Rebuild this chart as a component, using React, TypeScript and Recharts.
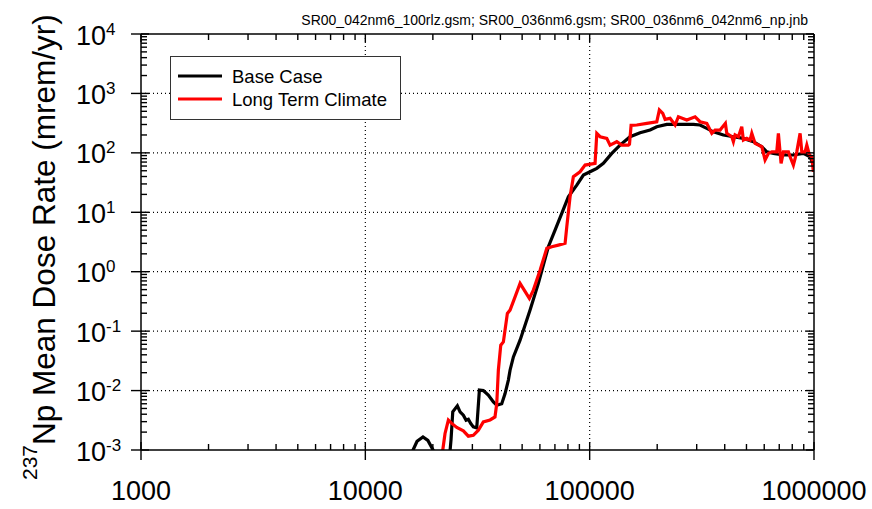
import { LineChart, Line, XAxis, YAxis, CartesianGrid, Legend } from "recharts"

const FONT = "'Liberation Sans', Arial, Helvetica, sans-serif"

// time (yr) and dose (mrem/yr)
const baseTime = [
    15000, 16320, 17000, 18070, 19000, 20050, 21000, 23500, 24100, 24530, 25720, 26440, 27350, 28120, 28790,
    29510, 30300, 31380, 32240, 33570, 35330, 37220, 38540, 40560, 41970, 43410, 44170, 45710, 48950, 54240,
    59060, 65440, 70100, 75100, 80360, 87600, 93760, 100400, 107600, 115100, 125500, 136600, 151400, 167800,
    185900, 199100, 220700, 252900, 290000, 310500, 332700, 356000, 394500, 437200, 484500, 537000, 585300,
    616000, 659200, 730400, 809200, 896700, 960700, 1000000,
]
const baseDose = [
    0.0005, 0.001, 0.0014, 0.00166, 0.00145, 0.001, 0.0005, 0.0005, 0.0015, 0.00438, 0.00553, 0.00438, 0.00385,
    0.00318, 0.0033, 0.00279, 0.00245, 0.00235, 0.0102, 0.01, 0.0084, 0.00645, 0.00568, 0.006, 0.0089, 0.015,
    0.022, 0.0369, 0.0705, 0.226, 0.636, 2.63, 5.0, 9.6, 18.2, 28.7, 42.3, 48.1, 54.8, 66.5, 98, 135, 187, 218,
    242, 275, 302, 302, 302, 294, 258, 226, 200, 187, 175, 154, 127, 104, 98, 92, 92, 98, 86, 58,
]

const climateTime = [
    21500, 22140, 22660, 23450, 24280, 25560, 27350, 28790, 30300, 31900, 33570, 35970, 37840, 38540, 39170,
    40150, 41240, 42970, 44170, 46500, 48950, 53850, 56100, 60100, 64400, 67760, 72550, 77700, 79060, 81770,
    84600, 90600, 95400, 105700, 107600, 111300, 119200, 123300, 132100, 139000, 148800, 150500, 153000, 162200,
    179800, 199100, 204500, 211800, 216900, 228300, 240300, 248600, 271000, 295100, 310500, 332700, 350300,
    362200, 381400, 402700, 408500, 430100, 437200, 444800, 460300, 476400, 484500, 501800, 518900, 528100,
    546300, 585300, 605300, 626600, 648600, 682300, 693800, 713300, 730400, 769100, 782500, 809200, 838000,
    867000, 882300, 912600, 928800, 954000, 977300, 993900, 1000000,
]
const climateDose = [
    0.0004, 0.001, 0.0019, 0.00318, 0.0028, 0.00239, 0.0021, 0.00171, 0.00177, 0.00215, 0.00297, 0.0032, 0.0036,
    0.00607, 0.022, 0.058, 0.066, 0.199, 0.226, 0.378, 0.636, 0.355, 0.49, 1.06, 2.47, 2.63, 2.8, 3.0, 5.7, 18.2,
    39.6, 48.1, 62.3, 66.5, 213, 187, 175, 135, 154, 135, 135, 140, 290, 294, 314, 334, 526, 462, 366, 381, 294,
    405, 356, 405, 334, 314, 213, 242, 242, 314, 213, 187, 154, 200, 187, 275, 164, 175, 164, 213, 144, 127,
    75.7, 98, 104, 104, 213, 66.5, 104, 104, 86, 62.3, 104, 213, 104, 104, 135, 92, 86, 48, 58,
]

const xDecades = [1000, 10000, 100000, 1000000]
const xTickLabels = ["1000", "10000", "100000", "1000000"]
const yExponents = [-3, -2, -1, 0, 1, 2, 3, 4]
const yTickLabels = ["-3", "-2", "-1", "0", "1", "2", "3", "4"]

const subtitle = "SR00_042nm6_100rlz.gsm; SR00_036nm6.gsm; SR00_036nm6_042nm6_np.jnb"

const baseData = baseTime.map((t, i) => ({ t, dose: baseDose[i] }))
const climateData = climateTime.map((t, i) => ({ t, dose: climateDose[i] }))

const yDecades = yExponents.map((e) => Math.pow(10, e))
const withMinors = (decades: number[]) => {
    const out: number[] = []
    decades.forEach((d, i) => {
        out.push(d)
        if (i < decades.length - 1) for (let k = 2; k <= 9; k++) out.push(d * k)
    })
    return out
}
const xTicks = withMinors(xDecades)
const yTicks = withMinors(yDecades)

const isMajor = (v: number) => Math.abs(Math.log10(v) - Math.round(Math.log10(v))) < 1e-6

function BottomTick({ x, y, payload }: any) {
    const v = payload.value
    const major = isMajor(v)
    const idx = xDecades.findIndex((d) => Math.abs(d - v) < 1e-6 * d)
    return (
        <g>
            <line x1={x} x2={x} y1={y - (major ? 8 : 6)} y2={y + (major ? 10 : 0)} stroke="#000" strokeWidth={1.4} />
            {major && (
                <text x={x} y={y + 50} textAnchor="middle" fontSize={27} fontFamily={FONT} fill="#000">
                    {xTickLabels[idx]}
                </text>
            )}
        </g>
    )
}

function TopTick({ x, y, payload }: any) {
    const major = isMajor(payload.value)
    return <line x1={x} x2={x} y1={y} y2={y + (major ? 8 : 6)} stroke="#000" strokeWidth={1.4} />
}

function LeftTick({ x, y, payload }: any) {
    const v = payload.value
    const major = isMajor(v)
    const idx = yDecades.findIndex((d) => Math.abs(d - v) < 1e-6 * d)
    return (
        <g>
            <line x1={x - (major ? 10 : 0)} x2={x + (major ? 8 : 6)} y1={y} y2={y} stroke="#000" strokeWidth={1.4} />
            {major && (
                <text x={x - 65} y={y + 10.5} fontSize={27} fontFamily={FONT} fill="#000">
                    10
                    <tspan fontSize={17} dy={-10}>
                        {yTickLabels[idx]}
                    </tspan>
                </text>
            )}
        </g>
    )
}

function RightTick({ x, y, payload }: any) {
    const major = isMajor(payload.value)
    return <line x1={x - (major ? 8 : 6)} x2={x} y1={y} y2={y} stroke="#000" strokeWidth={1.4} />
}

function LegendBox({ payload }: any) {
    return (
        <svg width={231} height={64} style={{ display: "block" }}>
            <rect x={0.5} y={0.5} width={230} height={63} fill="#fff" stroke="#333" strokeWidth={1} />
            {(payload || []).map((entry: any, i: number) => (
                <g key={entry.value}>
                    <line x1={8} x2={52} y1={20 + i * 23} y2={20 + i * 23} stroke={entry.color} strokeWidth={3} />
                    <text x={62} y={27 + i * 23} fontSize={18.5} fontFamily={FONT} fill="#000">
                        {entry.value}
                    </text>
                </g>
            ))}
        </svg>
    )
}

export default function App() {
    const axisLine = { stroke: "#000", strokeWidth: 1.5 }
    return (
        <div style={{ position: "absolute", left: 0, top: 0, background: "#fff" }}>
            <LineChart width={872} height={509} margin={{ top: 33, right: 57, bottom: 0, left: 0 }}>
                <CartesianGrid
                    horizontal
                    vertical
                    horizontalValues={yDecades.slice(1, -1)}
                    verticalValues={xDecades.slice(1, -1)}
                    stroke="#000"
                    strokeWidth={1.2}
                    strokeDasharray="1 3"
                />
                <XAxis
                    dataKey="t"
                    type="number"
                    scale="log"
                    domain={[1000, 1000000]}
                    allowDataOverflow
                    ticks={xTicks}
                    interval={0}
                    height={59}
                    tickSize={0}
                    tickMargin={0}
                    tickLine={false}
                    axisLine={axisLine}
                    tick={<BottomTick />}
                />
                <XAxis
                    xAxisId="top"
                    orientation="top"
                    dataKey="t"
                    type="number"
                    scale="log"
                    domain={[1000, 1000000]}
                    allowDataOverflow
                    ticks={xTicks}
                    interval={0}
                    height={1}
                    tickSize={0}
                    tickMargin={0}
                    tickLine={false}
                    axisLine={axisLine}
                    tick={<TopTick />}
                />
                <YAxis
                    type="number"
                    scale="log"
                    domain={[0.001, 10000]}
                    allowDataOverflow
                    ticks={yTicks}
                    interval={0}
                    width={141}
                    tickSize={0}
                    tickMargin={0}
                    tickLine={false}
                    axisLine={axisLine}
                    tick={<LeftTick />}
                />
                <YAxis
                    yAxisId="right"
                    orientation="right"
                    type="number"
                    scale="log"
                    domain={[0.001, 10000]}
                    allowDataOverflow
                    ticks={yTicks}
                    interval={0}
                    width={1}
                    tickSize={0}
                    tickMargin={0}
                    tickLine={false}
                    axisLine={axisLine}
                    tick={<RightTick />}
                />
                <Line
                    data={baseData}
                    dataKey="dose"
                    name="Base Case"
                    type="linear"
                    stroke="#000000"
                    strokeWidth={3.2}
                    dot={false}
                    isAnimationActive={false}
                />
                <Line
                    data={climateData}
                    dataKey="dose"
                    name="Long Term Climate"
                    type="linear"
                    stroke="#ff0000"
                    strokeWidth={3.2}
                    dot={false}
                    isAnimationActive={false}
                />
                <Legend
                    layout="horizontal"
                    align="center"
                    verticalAlign="middle"
                    content={<LegendBox />}
                    wrapperStyle={{ left: 170, top: 56, width: 231, height: 64 }}
                />
                <text x={808} y={25} textAnchor="end" fontSize={14} fontFamily={FONT} fill="#000">
                    {subtitle}
                </text>
                <text x={55} y={480} transform="rotate(-90 55 480)" fontFamily={FONT} fill="#000">
                    <tspan fontSize={21} dy={-18}>
                        237
                    </tspan>
                    <tspan fontSize={31.5} dy={18}>
                        Np Mean Dose Rate (mrem/yr)
                    </tspan>
                </text>
            </LineChart>
        </div>
    )
}
